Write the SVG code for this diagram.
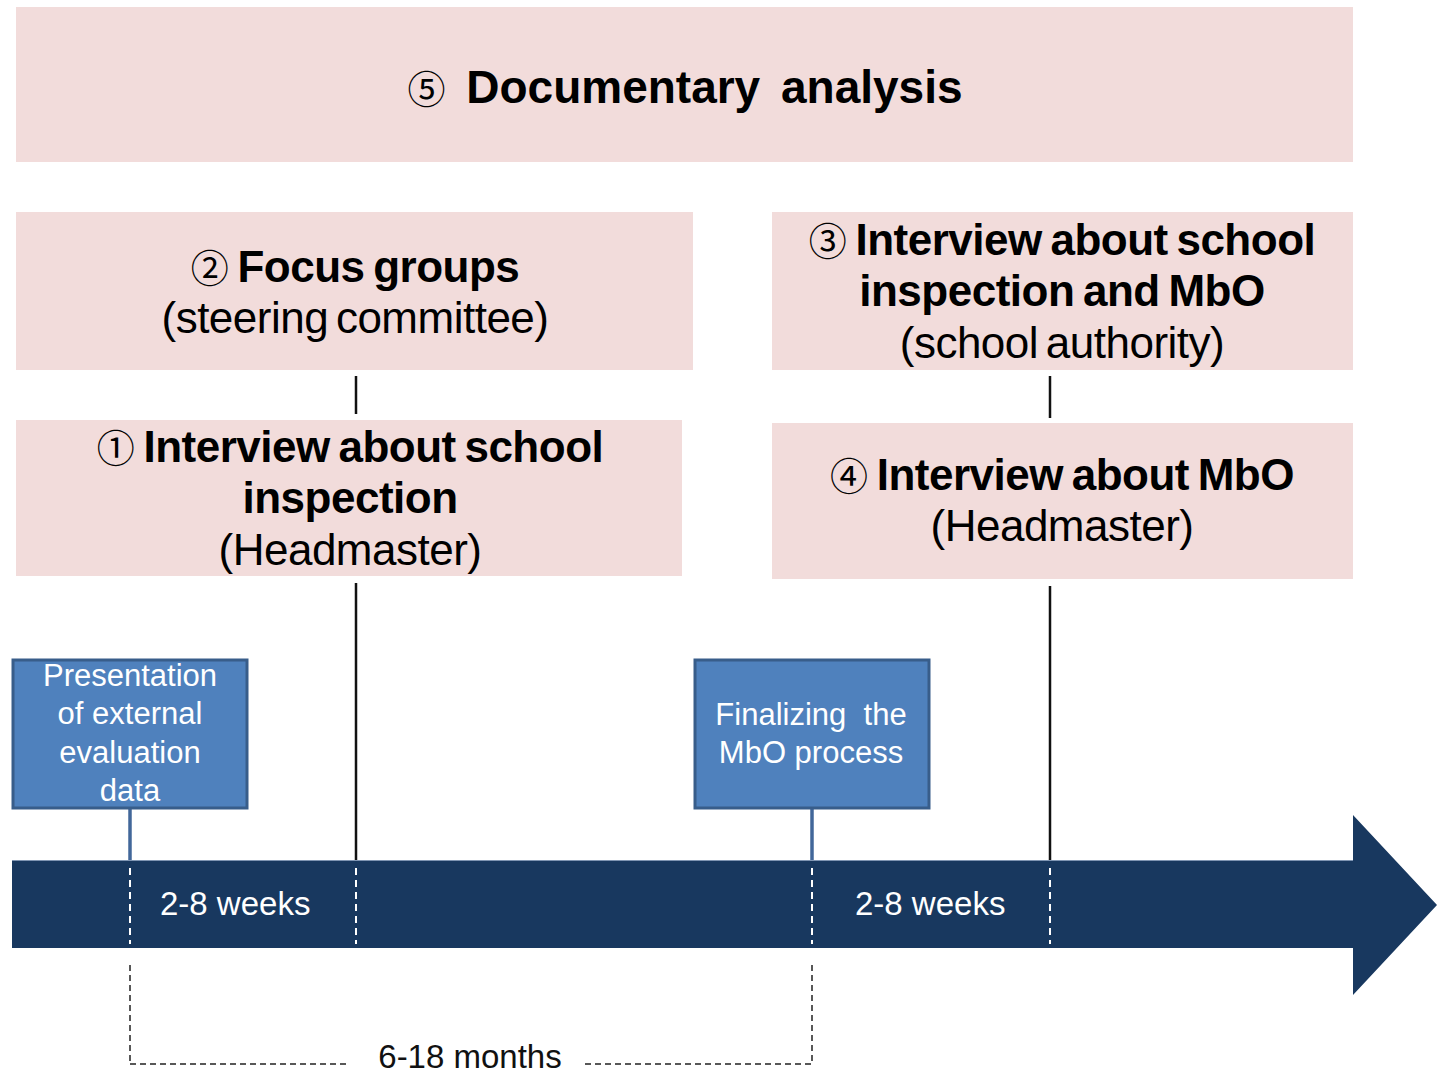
<svg xmlns="http://www.w3.org/2000/svg" width="1437" height="1075" viewBox="0 0 1437 1075">
  <style>
    .phase { fill: #f2dcdb; }
    .event { fill: #4f81bd; stroke: #385d8a; stroke-width: 3; }
    .t { font-family: "Liberation Sans", Arial, sans-serif; fill: #000; text-anchor: middle; }
    .b { font-weight: bold; font-size: 44px; letter-spacing: -0.5px; word-spacing: -3px; }
    .r { font-size: 44px; letter-spacing: -0.5px; word-spacing: -4px; }
    .num { font-family: "Noto Sans CJK JP", "DejaVu Sans", sans-serif; font-weight: normal; font-size: 38px; letter-spacing: 0; }
    .w { font-family: "Liberation Sans", Arial, sans-serif; fill: #fff; text-anchor: middle; font-size: 31px; }
    .wk { font-family: "Liberation Sans", Arial, sans-serif; fill: #fff; font-size: 33px; }
    .link { stroke: #111; stroke-width: 2.5; fill: none; }
    .blink { stroke: #42679a; stroke-width: 3.5; fill: none; }
    .tick { stroke: #fff; stroke-width: 2; stroke-dasharray: 7 5; fill: none; }
    .span { stroke: #222; stroke-width: 1.5; stroke-dasharray: 6 4; fill: none; }
  </style>

  <!-- timeline arrow -->
  <g id="timeline">
    <polygon points="12,860 1353,860 1353,815 1437,905 1353,995 1353,948 12,948" fill="#18385f"/>
    <line x1="12" y1="860.5" x2="1353" y2="860.5" stroke="#7f95b3" stroke-width="1"/>
    <text class="wk" x="160" y="915">2-8 weeks</text>
    <text class="wk" x="855" y="915">2-8 weeks</text>
  </g>

  <!-- connectors -->
  <g id="connectors">
    <line class="link" x1="356" y1="376" x2="356" y2="414"/>
    <line class="link" x1="356" y1="583" x2="356" y2="860"/>
    <line class="link" x1="1050" y1="376" x2="1050" y2="418"/>
    <line class="link" x1="1050" y1="586" x2="1050" y2="860"/>
    <line class="blink" x1="130" y1="809" x2="130" y2="860"/>
    <line class="blink" x1="812" y1="809" x2="812" y2="860"/>
    <line class="tick" x1="130" y1="868" x2="130" y2="944"/>
    <line class="tick" x1="356" y1="868" x2="356" y2="944"/>
    <line class="tick" x1="812" y1="868" x2="812" y2="944"/>
    <line class="tick" x1="1050" y1="868" x2="1050" y2="944"/>
    <line class="span" x1="130" y1="965" x2="130" y2="1062"/>
    <line class="span" x1="812" y1="965" x2="812" y2="1062"/>
    <line class="span" x1="130" y1="1064" x2="350" y2="1064"/>
    <line class="span" x1="585" y1="1064" x2="812" y2="1064"/>
  </g>

  <!-- duration label -->
  <text x="470" y="1068" font-family="Liberation Sans, Arial, sans-serif" font-size="33" fill="#111" text-anchor="middle">6-18 months</text>

  <g id="documentary-analysis">
    <rect class="phase" x="16" y="7" width="1337" height="155"/>
    <text class="t" x="685" y="103" font-weight="bold" font-size="46" word-spacing="8"><tspan class="num" font-size="40">⑤</tspan> Documentary analysis</text>
  </g>

  <g id="focus-groups">
    <rect class="phase" x="16" y="212" width="677" height="158"/>
    <text class="t b" x="355" y="282"><tspan class="num">②</tspan> Focus groups</text>
    <text class="t r" x="355" y="333">(steering committee)</text>
  </g>

  <g id="interview-inspection">
    <rect class="phase" x="16" y="420" width="666" height="156"/>
    <text class="t b" x="350" y="462"><tspan class="num">①</tspan> Interview about school</text>
    <text class="t b" x="350" y="513">inspection</text>
    <text class="t r" x="350" y="565">(Headmaster)</text>
  </g>

  <g id="interview-authority">
    <rect class="phase" x="772" y="212" width="581" height="158"/>
    <text class="t b" x="1062" y="255"><tspan class="num">③</tspan> Interview about school</text>
    <text class="t b" x="1062" y="306">inspection and MbO</text>
    <text class="t r" x="1062" y="358">(school authority)</text>
  </g>

  <g id="interview-mbo">
    <rect class="phase" x="772" y="423" width="581" height="156"/>
    <text class="t b" x="1062" y="490"><tspan class="num">④</tspan> Interview about MbO</text>
    <text class="t r" x="1062" y="541">(Headmaster)</text>
  </g>

  <g id="presentation">
    <rect class="event" x="13" y="660" width="234" height="148"/>
    <text class="w" x="130" y="686">Presentation</text>
    <text class="w" x="130" y="724">of external</text>
    <text class="w" x="130" y="763">evaluation</text>
    <text class="w" x="130" y="801">data</text>
  </g>

  <g id="finalizing">
    <rect class="event" x="695" y="660" width="234" height="148"/>
    <text class="w" x="811" y="725" xml:space="preserve">Finalizing  the</text>
    <text class="w" x="811" y="763">MbO process</text>
  </g>
</svg>
